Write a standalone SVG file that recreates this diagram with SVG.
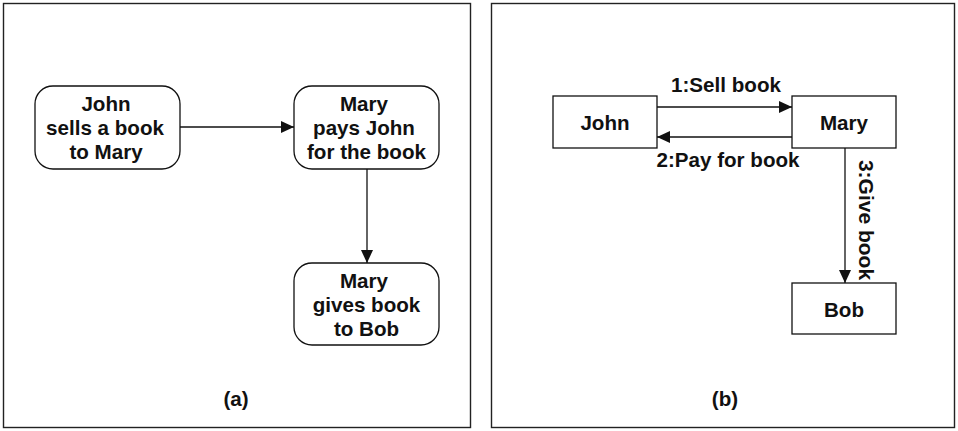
<svg xmlns="http://www.w3.org/2000/svg" width="958" height="431" viewBox="0 0 958 431">
  <style>
    .frame { fill: #ffffff; stroke: #222222; stroke-width: 1.4; }
    .node { fill: #ffffff; stroke: #111111; stroke-width: 1.3; }
    .edge { fill: none; stroke: #111111; stroke-width: 1.3; }
    text { font-family: "Liberation Sans", Arial, sans-serif; font-weight: bold; font-size: 20.6px; fill: #111111; text-anchor: middle; }
  </style>
  <defs>
    <marker id="arrow" viewBox="0 0 13 12" refX="13" refY="6" markerWidth="13" markerHeight="12" markerUnits="userSpaceOnUse" orient="auto">
      <path d="M0,0 L13,6 L0,12 Z" fill="#111111"/>
    </marker>
  </defs>

  <rect width="958" height="431" fill="#ffffff"/>

  <!-- panel (a): activity view -->
  <rect class="frame" x="3.5" y="3.5" width="467" height="424"/>
  <text x="236" y="406">(a)</text>

  <g id="a-sell">
    <rect class="node" x="35" y="86" width="145" height="83" rx="18" ry="18"/>
    <text x="106" y="111">John</text>
    <text x="105" y="135">sells a book</text>
    <text x="106" y="159">to Mary</text>
  </g>
  <g id="a-pay">
    <rect class="node" x="294" y="86" width="145" height="83" rx="18" ry="18"/>
    <text x="364" y="111">Mary</text>
    <text x="364" y="135">pays John</text>
    <text x="366.5" y="159">for the book</text>
  </g>
  <g id="a-give">
    <rect class="node" x="294" y="263" width="145" height="82" rx="18" ry="18"/>
    <text x="364" y="288">Mary</text>
    <text x="366.5" y="312">gives book</text>
    <text x="366.5" y="336">to Bob</text>
  </g>

  <!-- panel (b): collaboration view -->
  <rect class="frame" x="491.5" y="3.5" width="463" height="424"/>
  <text x="725" y="406">(b)</text>

  <g id="b-john">
    <rect class="node" x="553" y="96" width="104" height="52"/>
    <text x="605" y="130">John</text>
  </g>
  <g id="b-mary">
    <rect class="node" x="792" y="96" width="104" height="52"/>
    <text x="844" y="130">Mary</text>
  </g>
  <g id="b-bob">
    <rect class="node" x="792" y="283" width="104" height="51"/>
    <text x="844" y="317">Bob</text>
  </g>

  <g id="connectors">
    <line class="edge" x1="180" y1="127" x2="294" y2="127" marker-end="url(#arrow)"/>
    <line class="edge" x1="367" y1="169" x2="367" y2="263" marker-end="url(#arrow)"/>

    <line class="edge" x1="657" y1="107" x2="792" y2="107" marker-end="url(#arrow)"/>
    <text x="726" y="92">1:Sell book</text>
    <line class="edge" x1="792" y1="137" x2="657" y2="137" marker-end="url(#arrow)"/>
    <text x="728" y="167">2:Pay for book</text>
    <line class="edge" x1="845" y1="148" x2="845" y2="283" marker-end="url(#arrow)"/>
    <text transform="translate(859 220) rotate(90)" x="0" y="0" style="font-size:21px">3:Give book</text>
  </g>
</svg>
